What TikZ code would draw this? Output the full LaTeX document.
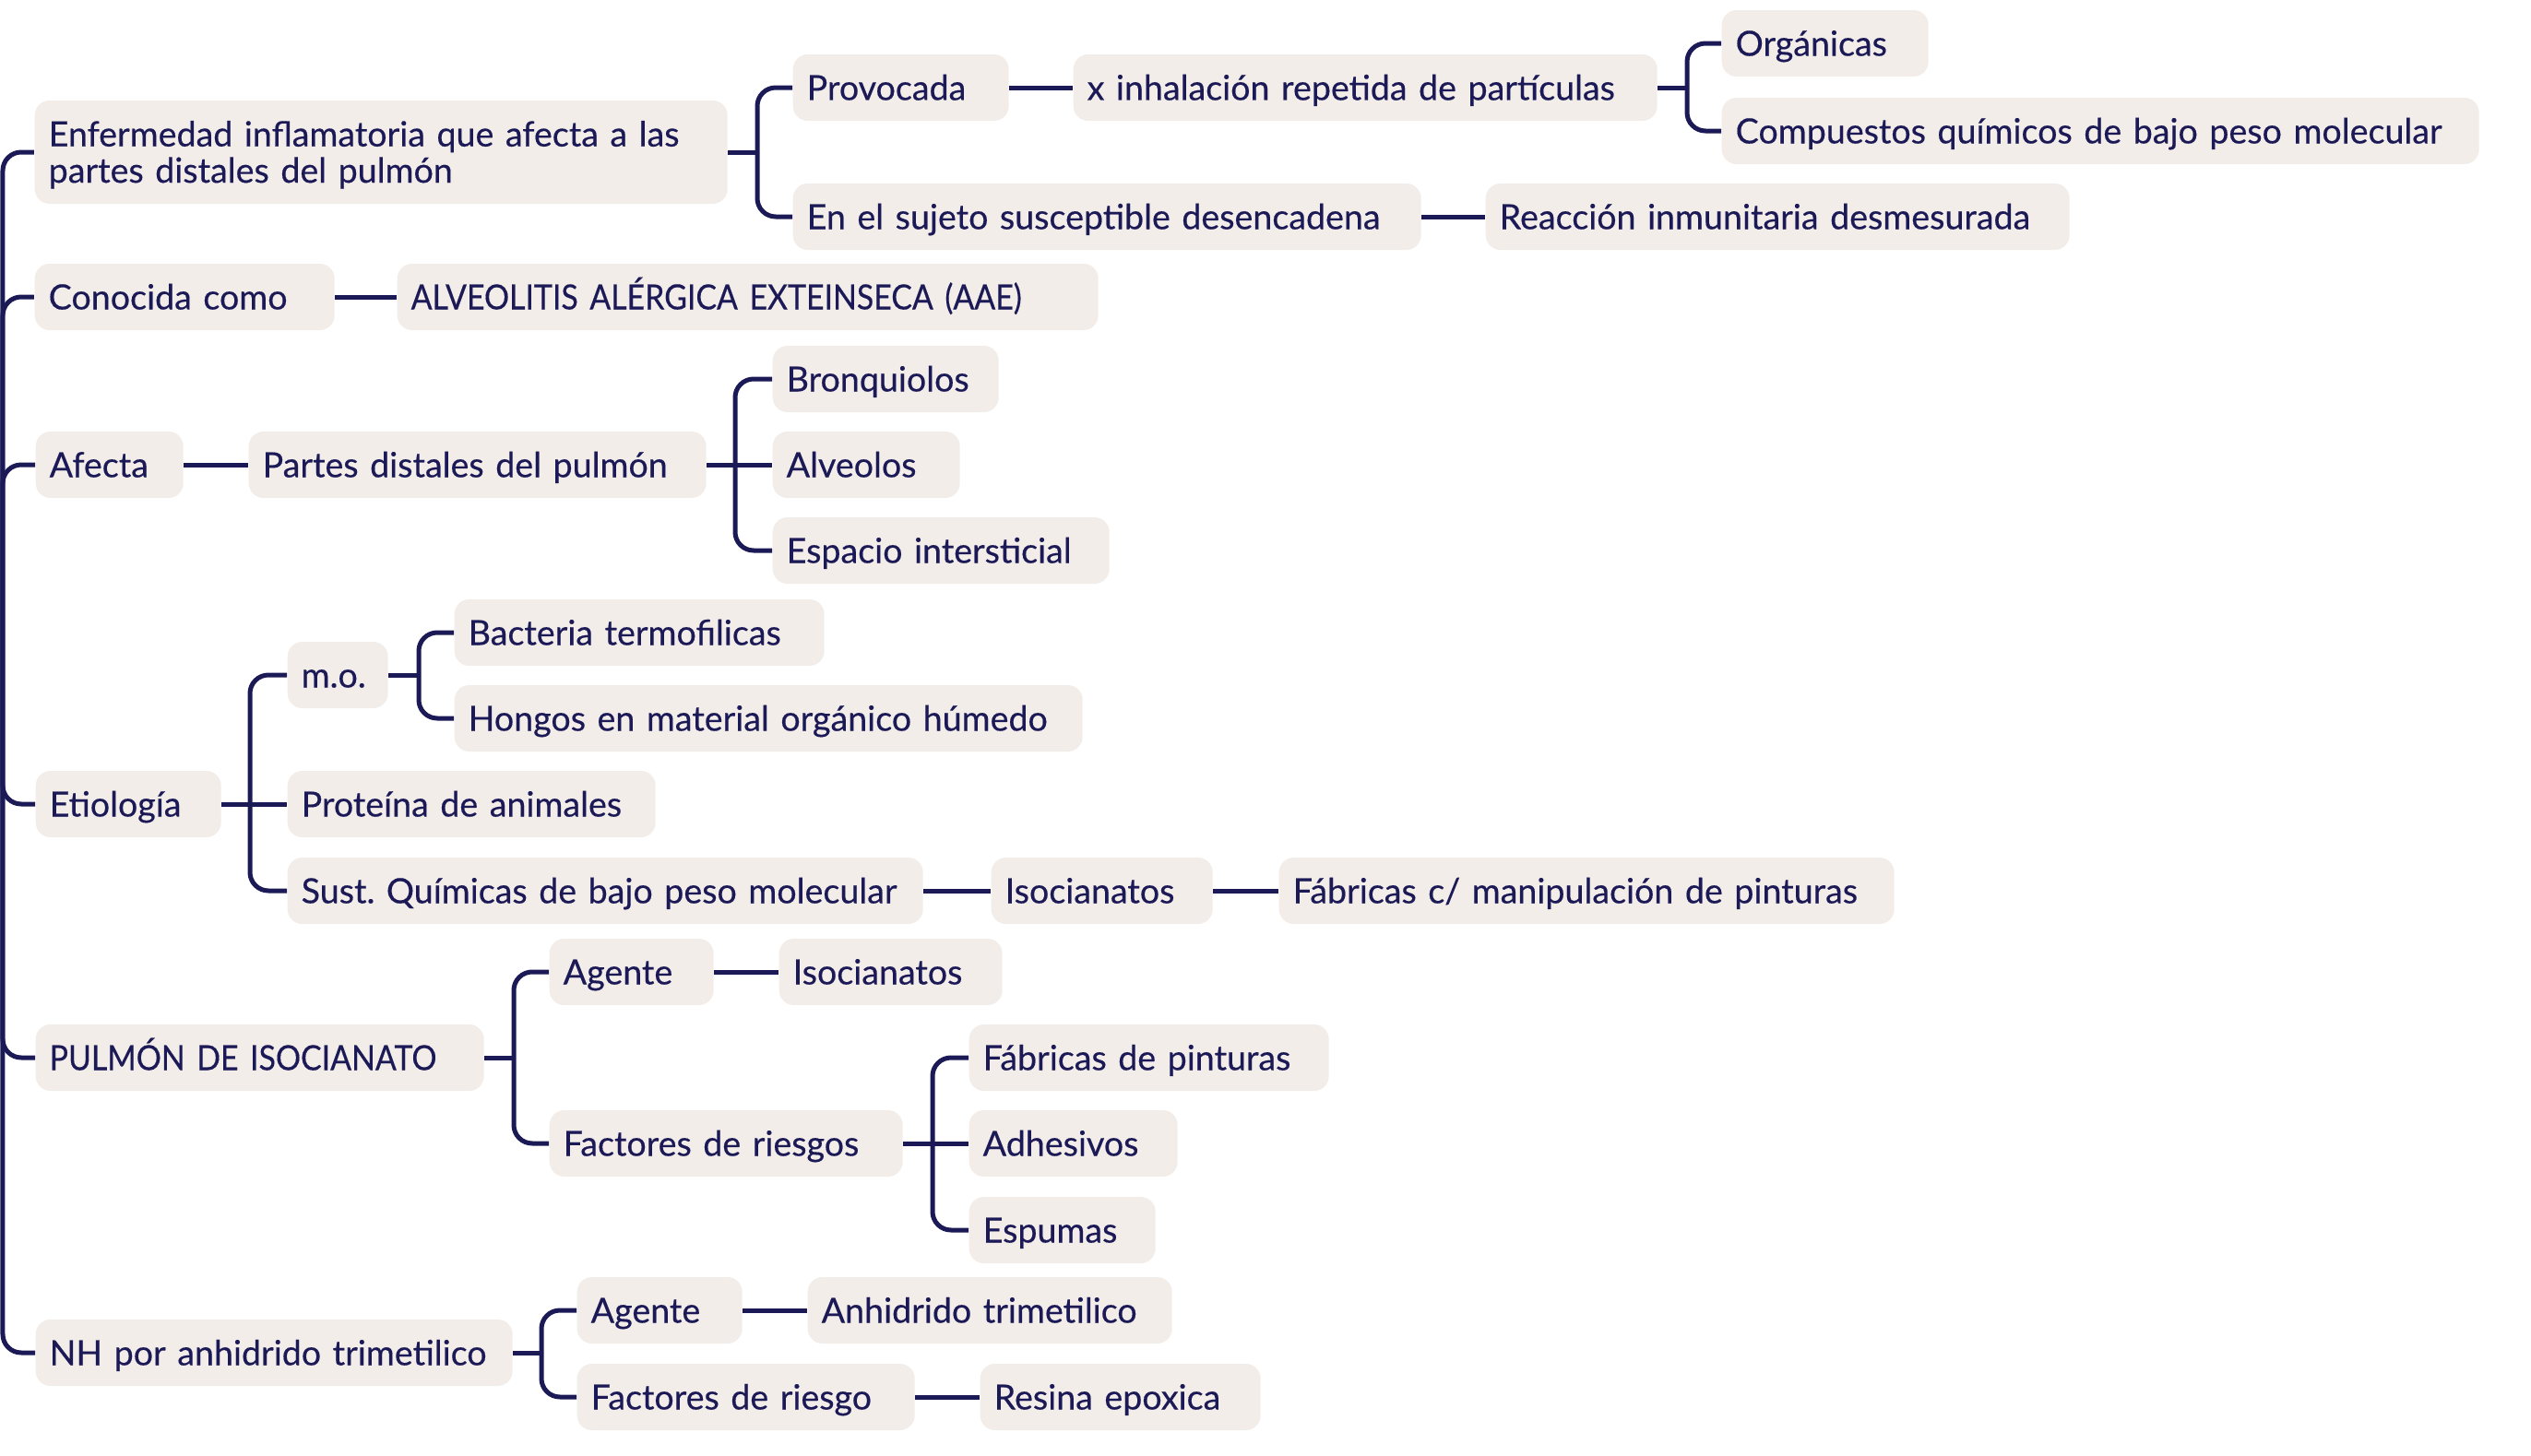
\documentclass[tikz,border=0pt]{standalone}
\usepackage{fontspec}
\setmainfont{Lato}[FakeBold=0.35]
\newfontfamily\capsfont{Lato}[FakeStretch=0.9, FakeBold=0.35]
\hyphenpenalty=10000
\frenchspacing
\definecolor{boxfill}{HTML}{F2EDE9}
\definecolor{ink}{HTML}{1C1A56}
\tikzset{
	topic/.style={fill=boxfill, text=ink, rounded corners=0.16cm, anchor=west, align=left,
		minimum height=0.72cm, inner xsep=0.15cm, inner ysep=0pt,
		text height=0.27cm, text depth=0pt, font=\fontsize{10.7pt}{11.2pt}\selectfont},
	link/.style={draw=ink, line width=0.05cm, rounded corners=0.2cm},
}

\begin{document}
\begin{tikzpicture}
			%%%%% START %%%%%
			\useasboundingbox (0, 0) rectangle (27.44, -15.79);
			
			\node[topic, text width=7.21cm, minimum height=1.12cm, text depth=0.395cm] (enf) at (0.37, -1.65) {Enfermedad inflamatoria que afecta a las\\partes distales del pulmón};
			\node[topic, text width=2.04cm] (prov) at (8.59, -0.95) {Provocada};
			\node[topic, text width=6.03cm] (inhal) at (11.63, -0.95) {x inhalación repetida de partículas};
			\node[topic, text width=1.94cm] (organ) at (18.66, -0.47) {Orgánicas};
			\node[topic, text width=7.91cm] (compu) at (18.66, -1.42) {Compuestos químicos de bajo peso molecular};
			\node[topic, text width=6.51cm] (sujeto) at (8.59, -2.35) {En el sujeto susceptible desencadena};
			\node[topic, text width=6.03cm] (reacc) at (16.10, -2.35) {Reacción inmunitaria desmesurada};
			
			\node[topic, text width=2.95cm] (conoc) at (0.37, -3.22) {Conocida como};
			\node[topic, text width=7.30cm] (aae) at (4.30, -3.22) {\capsfont ALVEOLITIS ALÉRGICA EXTEINSECA (AAE)};
			
			\node[topic, text width=1.30cm] (afecta) at (0.38, -5.04) {Afecta};
			\node[topic, text width=4.66cm] (distal) at (2.69, -5.04) {Partes distales del pulmón};
			\node[topic, text width=2.15cm] (bronq) at (8.37, -4.11) {Bronquiolos};
			\node[topic, text width=1.73cm] (alveo) at (8.37, -5.04) {Alveolos};
			\node[topic, text width=3.35cm] (espac) at (8.37, -5.97) {Espacio intersticial};
			
			\node[topic, text width=1.71cm] (etiol) at (0.38, -8.72) {Etiología};
			\node[topic, text width=0.79cm] (mo) at (3.11, -7.32) {m.o.};
			\node[topic, text width=3.71cm] (bacter) at (4.92, -6.86) {Bacteria termofilicas};
			\node[topic, text width=6.51cm] (hongos) at (4.92, -7.79) {Hongos en material orgánico húmedo};
			\node[topic, text width=3.69cm] (protei) at (3.11, -8.72) {Proteína de animales};
			\node[topic, text width=6.59cm] (sust) at (3.11, -9.66) {Sust. Químicas de bajo peso molecular};
			\node[topic, text width=2.10cm] (isoc) at (10.74, -9.66) {Isocianatos};
			\node[topic, text width=6.37cm] (fabman) at (13.86, -9.66) {Fábricas c/ manipulación de pinturas};
			
			\node[topic, text width=4.56cm] (pulmon) at (0.38, -11.47) {\capsfont PULMÓN DE ISOCIANATO};
			\node[topic, text width=1.48cm] (agente) at (5.95, -10.54) {Agente};
			\node[topic, text width=2.12cm] (isocb) at (8.44, -10.54) {Isocianatos};
			\node[topic, text width=3.53cm] (factor) at (5.95, -12.40) {Factores de riesgos};
			\node[topic, text width=3.60cm] (fabpin) at (10.50, -11.47) {Fábricas de pinturas};
			\node[topic, text width=1.96cm] (adhes) at (10.50, -12.40) {Adhesivos};
			\node[topic, text width=1.72cm] (espum) at (10.50, -13.34) {Espumas};
			
			\node[topic, text width=4.87cm] (nh) at (0.38, -14.67) {NH por anhidrido trimetilico};
			\node[topic, text width=1.49cm] (agenteb) at (6.25, -14.21) {Agente};
			\node[topic, text width=3.65cm] (anhid) at (8.75, -14.21) {Anhidrido trimetilico};
			\node[topic, text width=3.36cm] (factorb) at (6.25, -15.15) {Factores de riesgo};
			\node[topic, text width=2.74cm] (resina) at (10.62, -15.15) {Resina epoxica};
			
			% ramas
			\coordinate (root) at (0.03, -8.00);
			\draw[link] (root) |- (enf.west);
			\draw[link] (root) |- (conoc.west);
			\draw[link] (root) |- (afecta.west);
			\draw[link] (root) |- (etiol.west);
			\draw[link] (root) |- (pulmon.west);
			\draw[link] (root) |- (nh.west);
			
			\coordinate (s1) at (8.21, -1.65);
			\draw[link] (enf.east) -- (s1);
			\draw[link] (s1) |- (prov.west);
			\draw[link] (s1) |- (sujeto.west);
			\draw[link] (prov.east) -- (inhal.west);
			\coordinate (s2) at (18.29, -0.95);
			\draw[link] (inhal.east) -- (s2);
			\draw[link] (s2) |- (organ.west);
			\draw[link] (s2) |- (compu.west);
			\draw[link] (sujeto.east) -- (reacc.west);
			
			\draw[link] (conoc.east) -- (aae.west);
			
			\coordinate (s3) at (7.97, -5.04);
			\draw[link] (afecta.east) -- (distal.west);
			\draw[link] (distal.east) -- (alveo.west);
			\draw[link] (s3) |- (bronq.west);
			\draw[link] (s3) |- (espac.west);
			
			\coordinate (s4) at (2.71, -8.72);
			\draw[link] (etiol.east) -- (protei.west);
			\draw[link] (s4) |- (mo.west);
			\draw[link] (s4) |- (sust.west);
			\coordinate (s5) at (4.54, -7.32);
			\draw[link] (mo.east) -- (s5);
			\draw[link] (s5) |- (bacter.west);
			\draw[link] (s5) |- (hongos.west);
			\draw[link] (sust.east) -- (isoc.west);
			\draw[link] (isoc.east) -- (fabman.west);
			
			\coordinate (s6) at (5.57, -11.47);
			\draw[link] (pulmon.east) -- (s6);
			\draw[link] (s6) |- (agente.west);
			\draw[link] (s6) |- (factor.west);
			\draw[link] (agente.east) -- (isocb.west);
			\coordinate (s7) at (10.11, -12.40);
			\draw[link] (factor.east) -- (adhes.west);
			\draw[link] (s7) |- (fabpin.west);
			\draw[link] (s7) |- (espum.west);
			
			\coordinate (s8) at (5.87, -14.67);
			\draw[link] (nh.east) -- (s8);
			\draw[link] (s8) |- (agenteb.west);
			\draw[link] (s8) |- (factorb.west);
			\draw[link] (agenteb.east) -- (anhid.west);
			\draw[link] (factorb.east) -- (resina.west);
			
			%%%%% END %%%%%
\end{tikzpicture}
\end{document}
